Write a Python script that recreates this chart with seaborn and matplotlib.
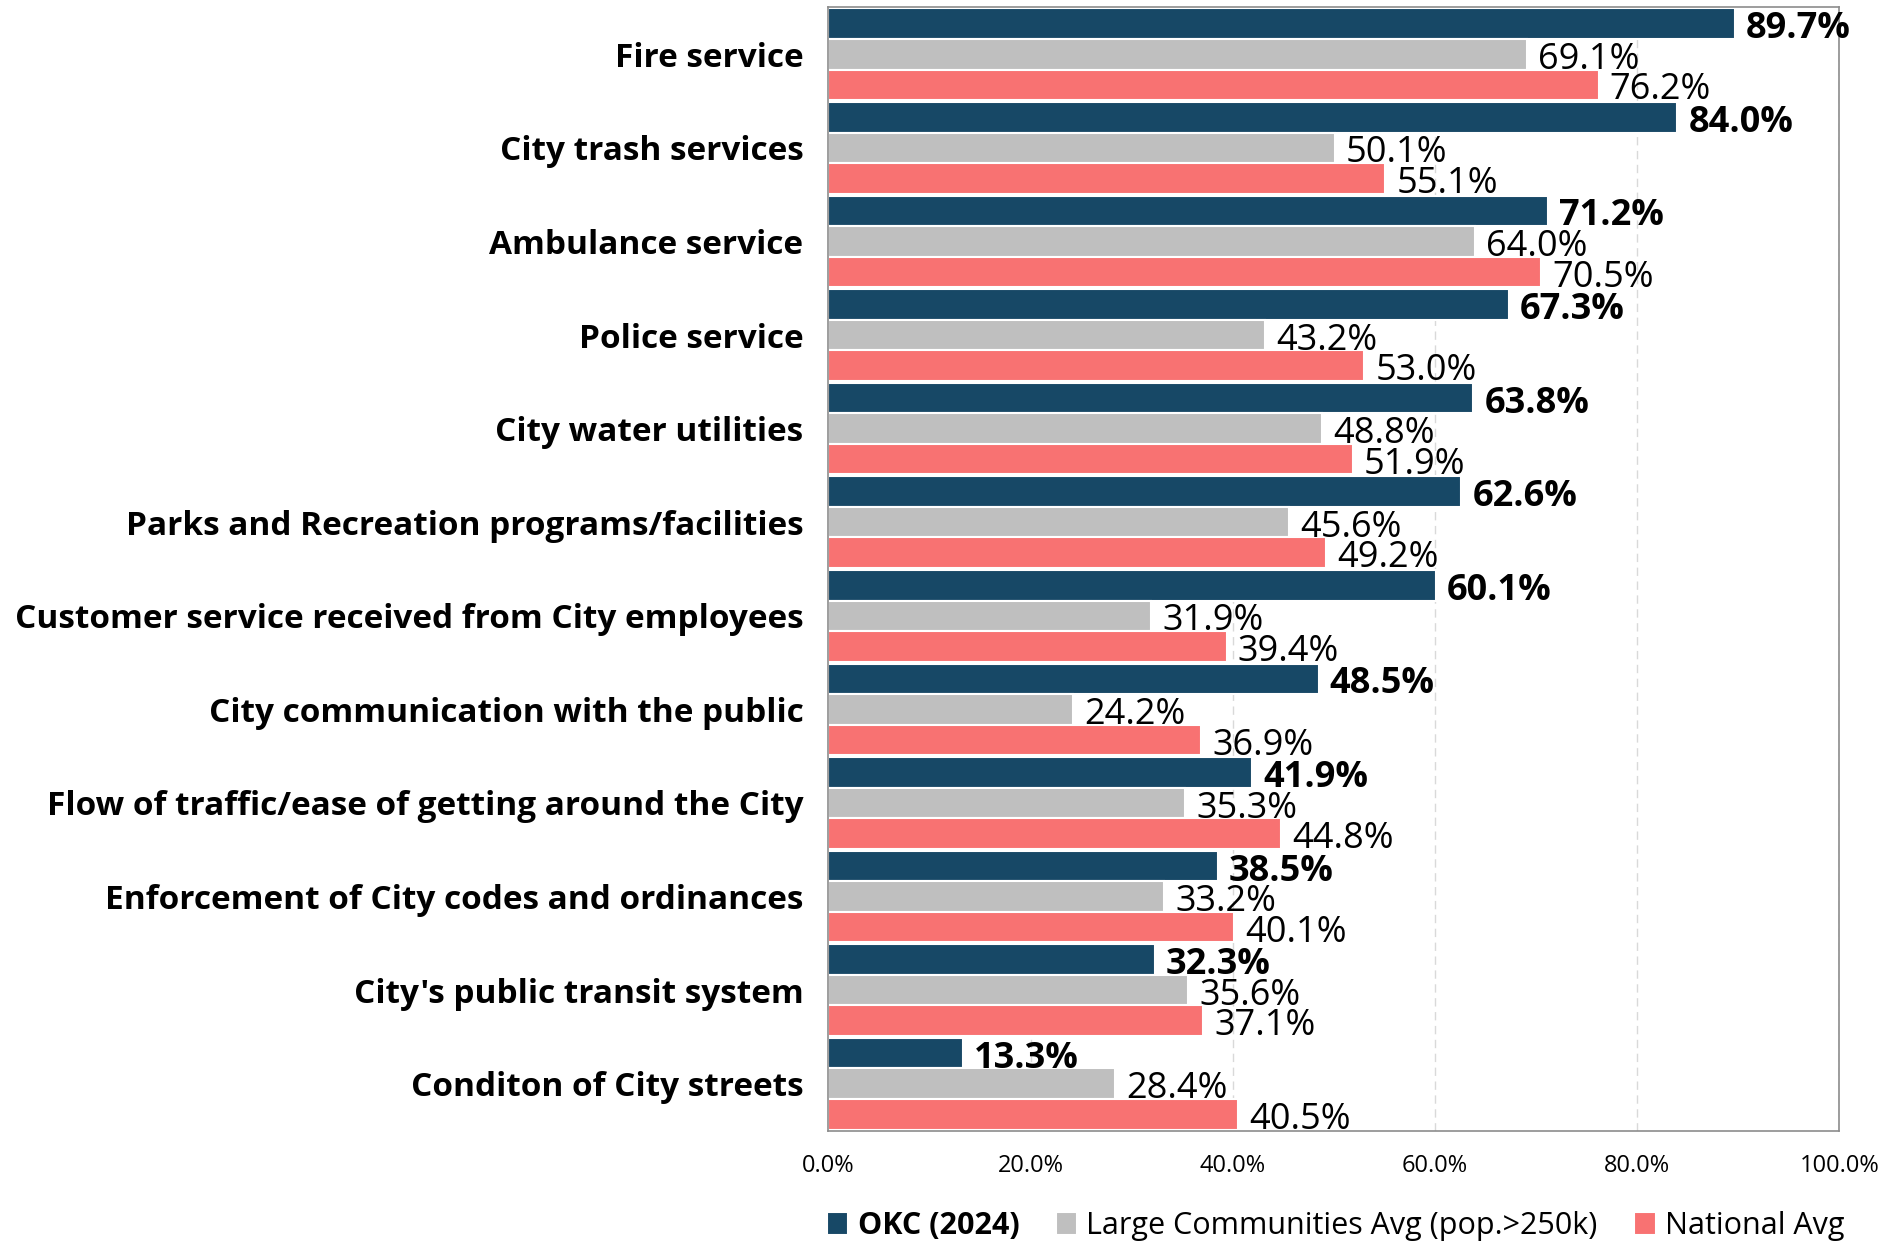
import seaborn as sns
import matplotlib.pyplot as plt
import pandas as pd
from matplotlib.ticker import PercentFormatter

servicos = ["Fire service", "City trash services", "Ambulance service", "Police service",
            "City water utilities", "Parks and Recreation programs/facilities",
            "Customer service received from City employees", "City communication with the public",
            "Flow of traffic/ease of getting around the City", "Enforcement of City codes and ordinances",
            "City's public transit system", "Conditon of City streets"]
okc = [89.7, 84.0, 71.2, 67.3, 63.8, 62.6, 60.1, 48.5, 41.9, 38.5, 32.3, 13.3]
grandes = [69.1, 50.1, 64.0, 43.2, 48.8, 45.6, 31.9, 24.2, 35.3, 33.2, 35.6, 28.4]
nacional = [76.2, 55.1, 70.5, 53.0, 51.9, 49.2, 39.4, 36.9, 44.8, 40.1, 37.1, 40.5]
series = ["OKC (2024)", "Large Communities Avg (pop.>250k)", "National Avg"]
cores = ["#174866", "#BFBFBF", "#F87272"]

df = pd.DataFrame({
    "servico": servicos * 3,
    "valor": okc + grandes + nacional,
    "grupo": [series[0]] * 12 + [series[1]] * 12 + [series[2]] * 12,
})

sns.set_style("white")
plt.rcParams['font.family'] = ['Open Sans', 'DejaVu Sans']
plt.rcParams['text.color'] = 'black'
plt.rcParams['xtick.color'] = 'black'
plt.rcParams['ytick.color'] = 'black'

fig = plt.figure(figsize=(19, 12.41), dpi=100)
ax = fig.add_axes([0.436, 0.089, 0.532, 0.905])

sns.barplot(data=df, y="servico", x="valor", hue="grupo", orient="h",
            palette=cores, saturation=1, width=0.98, edgecolor="white", linewidth=1.5,
            order=servicos, hue_order=series, ax=ax, legend=True)

ax.set_xlim(0, 100)
ax.set_ylim(11.5, -0.5)
ax.xaxis.set_major_formatter(PercentFormatter(decimals=1))
ax.set_xticks([0, 20, 40, 60, 80, 100])
ax.tick_params(axis='x', labelsize=17, pad=17, length=0)
ax.tick_params(axis='y', labelsize=24, pad=18, length=0)
for t in ax.get_yticklabels():
    t.set_fontweight('bold')
ax.set_xlabel("")
ax.set_ylabel("")
ax.grid(axis='x', color='#D9D9D9', linestyle=(0, (6, 4)), linewidth=1)
ax.set_axisbelow(True)
for s in ax.spines.values():
    s.set_color('#8C8C8C')
    s.set_linewidth(1.2)

# rótulos dos valores, um pouco abaixo do centro como no original
for i, cont in enumerate(ax.containers):
    rotulos = ax.bar_label(cont, fmt="%.1f%%", padding=8, fontsize=26,
                           fontweight='bold' if i == 0 else 'normal')
    for r in rotulos:
        r.xyann = (8, -4)

handles, labels = ax.get_legend_handles_labels()
ax.get_legend().remove()
leg = fig.legend(handles, labels, loc='center', bbox_to_anchor=(0.703, 0.012), ncol=3,
                 frameon=False, fontsize=22, handlelength=0.7, handleheight=0.8,
                 handletextpad=0.3, columnspacing=1.2, borderaxespad=0)
leg.get_texts()[0].set_fontweight('bold')

plt.savefig("out.png", dpi=100)
